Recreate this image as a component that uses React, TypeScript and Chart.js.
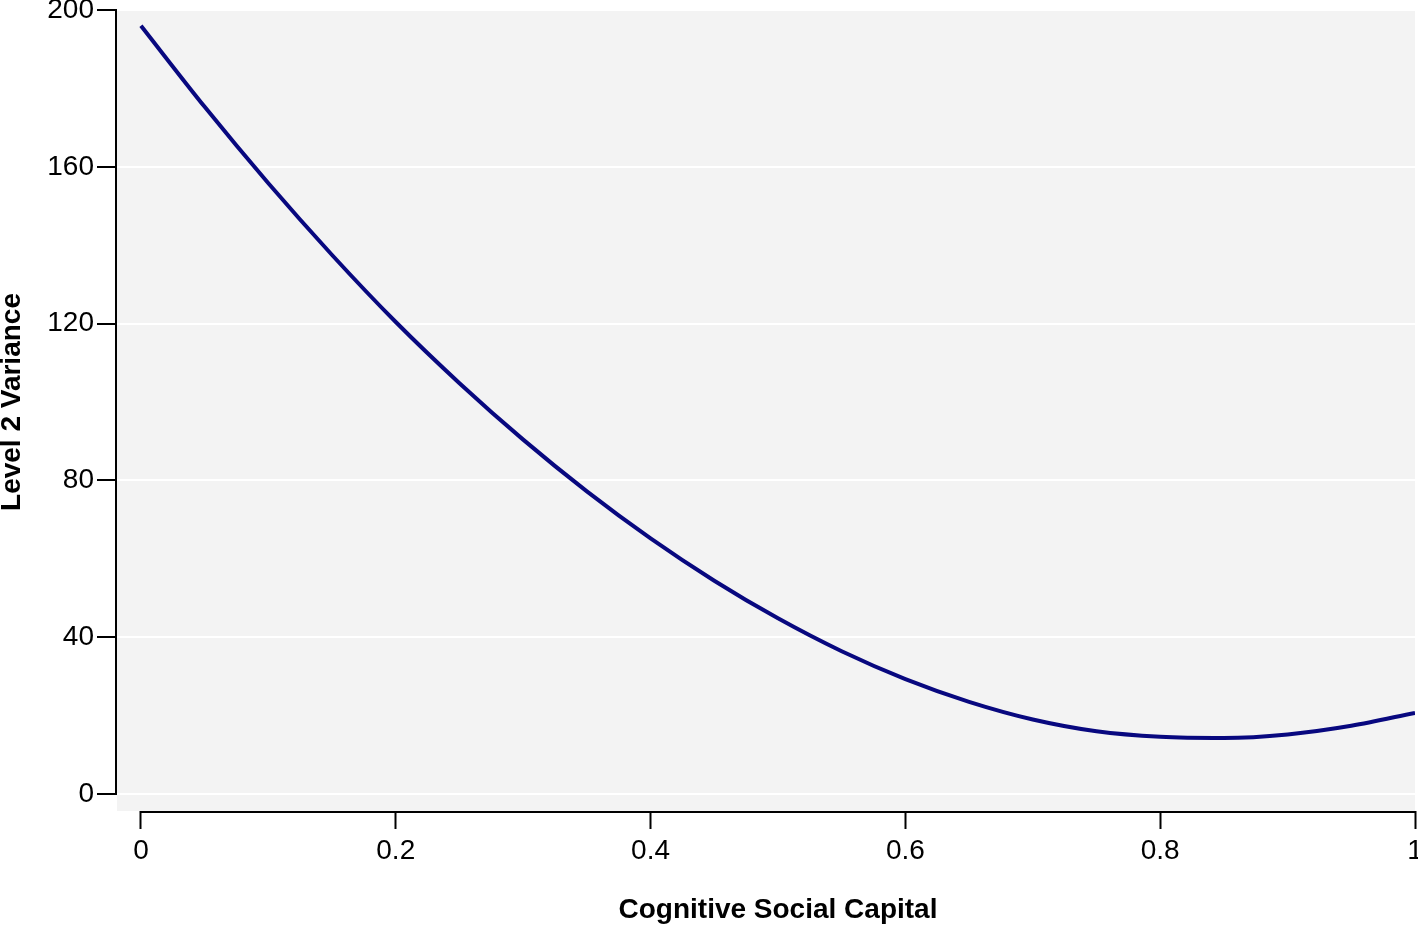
import React, { useEffect, useRef } from "react";
import { Chart, registerables } from "chart.js";

Chart.register(...registerables);

const capitalValues = [0, 0.05, 0.1, 0.15, 0.2, 0.25, 0.3, 0.35, 0.4, 0.45, 0.5, 0.55, 0.6, 0.65, 0.7, 0.75, 0.8, 0.85, 0.9, 0.95, 1];
const varianceValues = [196, 175.3, 155.8, 137.5, 120.4, 104.8, 90.4, 77.2, 65.2, 54.4, 44.8, 36.4, 29.3, 23.5, 19.0, 16.0, 14.6, 14.3, 15.2, 17.4, 20.7];
const xTickValues = [0, 0.2, 0.4, 0.6, 0.8, 1];
const yTickValues = [0, 40, 80, 120, 160, 200];
const xTitle = "Cognitive Social Capital";
const yTitle = "Level 2 Variance";

const FONT = "'Liberation Sans', Arial, Helvetica, sans-serif";

export default function App() {
  const ref = useRef<HTMLCanvasElement | null>(null);

  useEffect(() => {
    if (!ref.current) return;
    const decor = {
      id: "decor",
      beforeDraw(chart: any) {
        const { ctx, chartArea } = chart;
        ctx.save();
        ctx.fillStyle = "#f3f3f3";
        ctx.fillRect(chartArea.left, chartArea.top, chartArea.right - chartArea.left, chartArea.bottom - chartArea.top);
        ctx.restore();
      },
      afterDraw(chart: any) {
        const { ctx, scales } = chart;
        const xs = scales.x;
        const ys = scales.y;
        ctx.save();
        ctx.strokeStyle = "#000";
        ctx.lineWidth = 2;
        ctx.beginPath();
        ctx.moveTo(ys.right - 1, ys.getPixelForValue(200) - 1);
        ctx.lineTo(ys.right - 1, ys.getPixelForValue(0) + 1);
        ctx.stroke();
        ctx.beginPath();
        ctx.moveTo(xs.getPixelForValue(0) - 1, xs.top + 1);
        ctx.lineTo(xs.getPixelForValue(1) + 1, xs.top + 1);
        ctx.stroke();
        ctx.fillStyle = "#000";
        ctx.font = `bold 28px ${FONT}`;
        ctx.textAlign = "center";
        ctx.textBaseline = "middle";
        ctx.fillText(xTitle, (xs.getPixelForValue(0) + xs.getPixelForValue(1)) / 2, 910);
        ctx.translate(12, (ys.getPixelForValue(0) + ys.getPixelForValue(200)) / 2);
        ctx.rotate(-Math.PI / 2);
        ctx.fillText(yTitle, 0, 0);
        ctx.restore();
      },
    };

    const chart = new Chart(ref.current, {
      type: "line",
      data: {
        datasets: [
          {
            data: capitalValues.map((x, i) => ({ x, y: varianceValues[i] })),
            borderColor: "#08087f",
            borderWidth: 4,
            pointRadius: 0,
            cubicInterpolationMode: "monotone",
            fill: false,
          },
        ],
      },
      options: {
        animation: false,
        responsive: false,
        maintainAspectRatio: false,
        layout: { padding: { top: 10, right: 3, left: 0, bottom: 0 } },
        plugins: { legend: { display: false }, tooltip: { enabled: false }, title: { display: false } },
        scales: {
          x: {
            type: "linear",
            min: -0.0188,
            max: 1,
            afterBuildTicks(scale: any) {
              scale.ticks = xTickValues.map((v) => ({ value: v }));
            },
            afterFit(scale: any) {
              scale.height = 114;
              scale.paddingLeft = 0;
              scale.paddingRight = 0;
            },
            ticks: {
              autoSkip: false,
              maxRotation: 0,
              color: "#000",
              padding: 5,
              font: { family: FONT, size: 28 },
              callback: (v: any) => String(v),
            },
            grid: { drawOnChartArea: false, drawTicks: true, tickLength: 18, tickWidth: 2, tickColor: "#000" },
            border: { display: false },
          },
          y: {
            type: "linear",
            min: -4.34,
            max: 200,
            afterBuildTicks(scale: any) {
              scale.ticks = yTickValues.map((v) => ({ value: v }));
            },
            afterFit(scale: any) {
              scale.width = 117;
              scale.paddingTop = 0;
              scale.paddingBottom = 0;
            },
            ticks: {
              autoSkip: false,
              color: "#000",
              padding: 3,
              font: { family: FONT, size: 28 },
              callback: (v: any) => String(v),
            },
            grid: { color: "#ffffff", lineWidth: 2, drawTicks: true, tickLength: 20, tickWidth: 2, tickColor: "#000" },
            border: { display: false },
          },
        },
      },
      plugins: [decor],
    });
    return () => chart.destroy();
  }, []);

  return (
    <div style={{ position: "fixed", left: 0, top: 0, width: 1418, height: 925, background: "#fff" }}>
      <canvas ref={ref} width={1418} height={925} style={{ width: 1418, height: 925, display: "block" }} />
    </div>
  );
}
